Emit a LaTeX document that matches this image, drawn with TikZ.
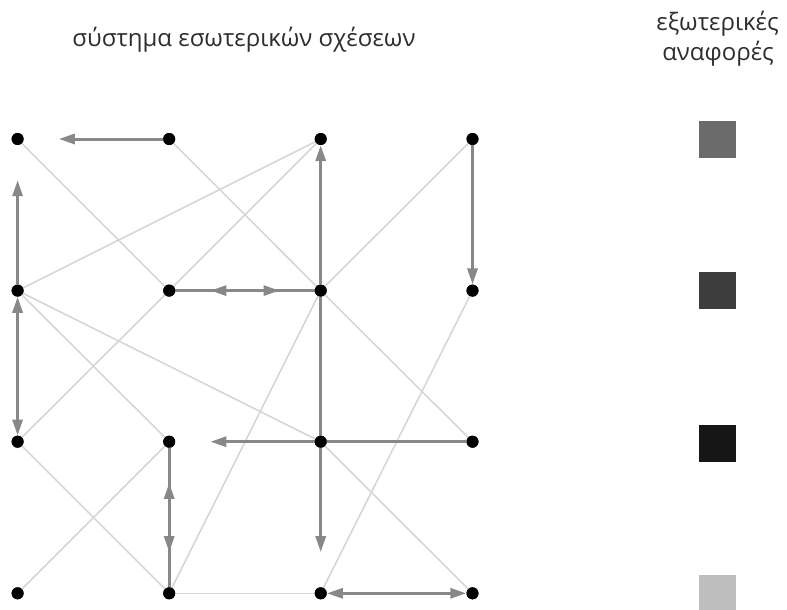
\documentclass[tikz,border=0pt]{standalone}
\usepackage{fontspec}
\setmainfont{Open Sans}
\usetikzlibrary{arrows.meta}

\definecolor{linkgray}{HTML}{D6D6D6}
\definecolor{arrowgray}{HTML}{888888}
\definecolor{txtgray}{HTML}{2E2E2E}
\definecolor{refA}{HTML}{6B6B6B}
\definecolor{refB}{HTML}{3D3D3D}
\definecolor{refC}{HTML}{161616}
\definecolor{refD}{HTML}{BEBEBE}

\tikzset{
  dot/.style={circle, fill=black, inner sep=0pt, minimum size=12pt},
  link/.style={draw=linkgray, line width=1.6pt},
  rel/.style={draw=arrowgray, line width=3pt},
  relarrow/.style={rel, -{Triangle[length=16pt,width=10pt]}},
  relboth/.style={rel, {Triangle[length=16pt,width=10pt]}-{Triangle[length=16pt,width=10pt]}},
  short/.style={shorten >=35pt},
  refbox/.style={inner sep=0pt, minimum size=37pt},
  title/.style={text=txtgray, font=\fontsize{24}{28}\selectfont, inner sep=0pt, anchor=base}
}

\begin{document}
\begin{tikzpicture}[x=1pt, y=-1pt]
\useasboundingbox (0,0) rectangle (787,610);

% grid of elements
\foreach \i/\xx in {0/17.6,1/169.2,2/320.7,3/472.5}{
  \foreach \j/\yy in {0/139,1/290.6,2/441.7,3/593.3}{
    \node[dot] (n\i\j) at (\xx,\yy) {};
  }
}

% headings
\node[title] (t1) at (244,47) {σύστημα εσωτερικών σχέσεων};
\node[title] (t2) at (717.5,31) {εξωτερικές};
\node[title] (t3) at (718,60) {αναφορές};

% external reference swatches
\node[refbox, fill=refA] (s1) at (717.5,139.5) {};
\node[refbox, fill=refB] (s2) at (717.5,290.5) {};
\node[refbox, fill=refC] (s3) at (717.5,443) {};
\fill[refD] (699,575) rectangle (736,610);

% weak links
\path[link] (n00) -- (n11);
\path[link] (n10) -- (n21);
\path[link] (n01) -- (n20);
\path[link] (n02) -- (n11);
\path[link] (n11) -- (n20);
\path[link] (n30) -- (n21);
\path[link] (n21) -- (n13);
\path[link] (n21) -- (n32);
\path[link] (n31) -- (n23);
\path[link] (n01) -- (n22);
\path[link] (n01) -- (n12);
\path[link] (n02) -- (n13);
\path[link] (n03) -- (n12);
\path[link] (n13) -- (n23);
\path[link] (n22) -- (n33);

% directed relations
\path[relarrow, short] (n10) -- (n00);
\path[relarrow, short] (n01) -- (n00);
\path[relboth] (n01) -- (n02);
\path[relarrow, short] (n11) -- (n21);
\path[relarrow, short] (n21) -- (n11);
\path[relarrow] (n21) -- (n20);
\path[rel] (n21) -- (n22);
\path[relarrow] (n30) -- (n31);
\path[relarrow, short] (n22) -- (n12);
\path[rel] (n22) -- (n32);
\path[relarrow, short] (n22) -- (n23);
\path[relarrow, short] (n12) -- (n13);
\path[relarrow, short] (n13) -- (n12);
\path[relboth] (n23) -- (n33);

% redraw the elements above the connectors
\foreach \i/\xx in {0/17.6,1/169.2,2/320.7,3/472.5}{
  \foreach \j/\yy in {0/139,1/290.6,2/441.7,3/593.3}{
    \fill (\xx,\yy) circle (6pt);
  }
}
\end{tikzpicture}
\end{document}
